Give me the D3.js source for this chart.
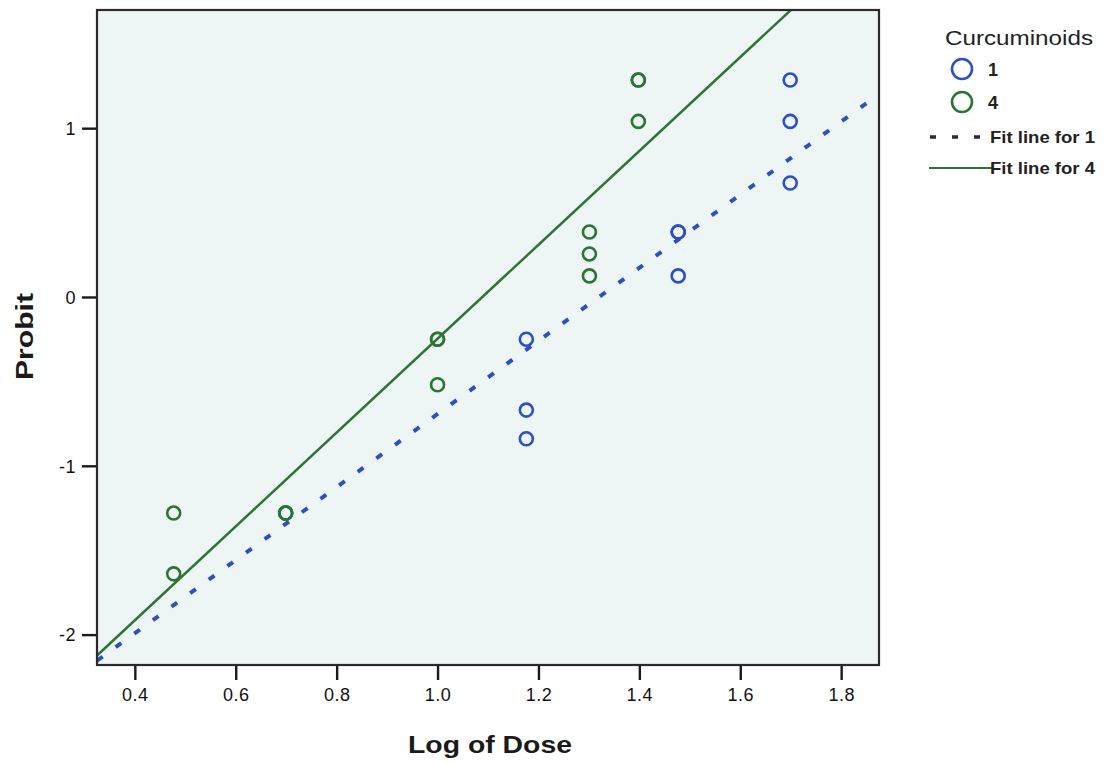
<!DOCTYPE html>
<html>
<head>
<meta charset="utf-8">
<script src="https://cdn.jsdelivr.net/npm/d3@7"></script>
<style>
  html, body { margin: 0; padding: 0; background: #ffffff; }
  svg { display: block; font-family: "Liberation Sans", Arial, sans-serif; }
</style>
</head>
<body>
<svg id="chart" width="1108" height="764"></svg>
<script>
// ---- data ----
const xTicks = [0.4, 0.6, 0.8, 1.0, 1.2, 1.4, 1.6, 1.8];
const yTicks = [-2, -1, 0, 1];
const xDomain = [0.325, 1.875];
const yDomain = [-2.18, 1.70];

// Curcuminoids = 1 (blue)
const group1X = [0.699, 1.176, 1.176, 1.176, 1.477, 1.477, 1.477, 1.699, 1.699, 1.699];
const group1Y = [-1.28, -0.25, -0.67, -0.84, 0.385, 0.385, 0.125, 1.285, 1.04, 0.675];
// Curcuminoids = 4 (green)
const group4X = [0.477, 0.477, 0.699, 0.699, 1.0, 1.0, 1.0, 1.301, 1.301, 1.301, 1.398, 1.398, 1.398];
const group4Y = [-1.28, -1.64, -1.28, -1.28, -0.25, -0.25, -0.52, 0.385, 0.255, 0.125, 1.285, 1.285, 1.04];

// fit lines (intercept, slope)
const fit1 = { intercept: -2.858, slope: 2.165 };
const fit4 = { intercept: -3.027, slope: 2.78 };

const legendTitle = "Curcuminoids";
const legendLabels = ["1", "4", "Fit line for 1", "Fit line for 4"];

// ---- styles ----
const blue = "#2d50c0";
const green = "#2b7434";
const plotBg = "#eef5f5";

const svg = d3.select("#chart");
const L = 97, R = 879, T = 10, B = 665;

const x = d3.scaleLinear().domain(xDomain).range([L, R]);
const y = d3.scaleLinear().domain(yDomain).range([B, T]);

svg.append("defs").append("clipPath").attr("id", "plotclip")
  .append("rect").attr("x", L).attr("y", T).attr("width", R - L).attr("height", B - T);

svg.append("rect").attr("x", L).attr("y", T).attr("width", R - L).attr("height", B - T)
  .attr("fill", plotBg);

// axes
const xAxis = svg.append("g").attr("transform", `translate(0,${B})`)
  .call(d3.axisBottom(x).tickValues(xTicks).tickFormat(d3.format(".1f")).tickSize(15).tickPadding(8));
const yAxis = svg.append("g").attr("transform", `translate(${L},0)`)
  .call(d3.axisLeft(y).tickValues(yTicks).tickFormat(d => (d < 0 ? "-" : "") + Math.abs(d)).tickSize(15).tickPadding(6));
[xAxis, yAxis].forEach(g => {
  g.select(".domain").remove();
  g.selectAll(".tick line").attr("stroke", "#1a1a1a").attr("stroke-width", 2.4);
  g.selectAll(".tick text").attr("fill", "#111").style("font-size", "18px")
    .style("letter-spacing", "0.5px").style("font-family", "'Liberation Sans', Arial, sans-serif");
});
yAxis.selectAll(".tick text").attr("dy", "0.35em");

// fit lines
const plotG = svg.append("g").attr("clip-path", "url(#plotclip)");
const lineGen = d3.line().x(d => x(d[0])).y(d => y(d[1]));
const fitPts = f => xDomain.map(v => [v, f.intercept + f.slope * v]);

plotG.append("path").datum(fitPts(fit4)).attr("d", lineGen)
  .attr("fill", "none").attr("stroke", green).attr("stroke-width", 2.5);
plotG.append("path").datum(fitPts(fit1)).attr("d", lineGen)
  .attr("fill", "none").attr("stroke", blue).attr("stroke-width", 4)
  .attr("stroke-dasharray", "7,16");

// points
const pts1 = group1X.map((v, i) => [v, group1Y[i]]);
const pts4 = group4X.map((v, i) => [v, group4Y[i]]);
plotG.selectAll("circle.g1").data(pts1).join("circle").attr("class", "g1")
  .attr("cx", d => x(d[0])).attr("cy", d => y(d[1])).attr("r", 6.5)
  .attr("fill", "none").attr("stroke", blue).attr("stroke-width", 2.6);
plotG.selectAll("circle.g4").data(pts4).join("circle").attr("class", "g4")
  .attr("cx", d => x(d[0])).attr("cy", d => y(d[1])).attr("r", 6.5)
  .attr("fill", "none").attr("stroke", green).attr("stroke-width", 2.6);

// frame
svg.append("rect").attr("x", L).attr("y", T).attr("width", R - L).attr("height", B - T)
  .attr("fill", "none").attr("stroke", "#2a2a2a").attr("stroke-width", 2.2);

// axis titles
svg.append("text").attr("x", (408 + 572) / 2).attr("y", 753).attr("text-anchor", "middle")
  .attr("font-weight", "bold").attr("font-size", 24).attr("fill", "#1a1a1a")
  .attr("textLength", 164).attr("lengthAdjust", "spacingAndGlyphs")
  .text("Log of Dose");
svg.append("text").attr("transform", `translate(33,${(293 + 380) / 2}) rotate(-90)`)
  .attr("text-anchor", "middle")
  .attr("font-weight", "bold").attr("font-size", 24).attr("fill", "#1a1a1a")
  .attr("textLength", 87).attr("lengthAdjust", "spacingAndGlyphs")
  .text("Probit");

// legend
const lg = svg.append("g");
lg.append("text").attr("x", 945).attr("y", 45).attr("font-size", 20).attr("fill", "#222")
  .attr("textLength", 148).attr("lengthAdjust", "spacingAndGlyphs").text(legendTitle);
lg.append("circle").attr("cx", 962).attr("cy", 69).attr("r", 10)
  .attr("fill", "none").attr("stroke", blue).attr("stroke-width", 2.6);
lg.append("circle").attr("cx", 962).attr("cy", 102).attr("r", 10)
  .attr("fill", "none").attr("stroke", green).attr("stroke-width", 2.6);
lg.append("text").attr("x", 988).attr("y", 76).attr("font-size", 18).attr("font-weight", "bold")
  .attr("fill", "#222").text(legendLabels[0]);
lg.append("text").attr("x", 988).attr("y", 109).attr("font-size", 18).attr("font-weight", "bold")
  .attr("fill", "#222").text(legendLabels[1]);
lg.append("line").attr("x1", 930).attr("x2", 995).attr("y1", 137).attr("y2", 137)
  .attr("stroke", "#262a40").attr("stroke-width", 3.5).attr("stroke-dasharray", "6,16");
lg.append("text").attr("x", 990).attr("y", 143).attr("font-size", 17).attr("font-weight", "bold")
  .attr("fill", "#222").attr("textLength", 105).attr("lengthAdjust", "spacingAndGlyphs")
  .text(legendLabels[2]);
lg.append("line").attr("x1", 929).attr("x2", 992).attr("y1", 168).attr("y2", 168)
  .attr("stroke", green).attr("stroke-width", 2.2);
lg.append("text").attr("x", 990).attr("y", 174).attr("font-size", 17).attr("font-weight", "bold")
  .attr("fill", "#222").attr("textLength", 105).attr("lengthAdjust", "spacingAndGlyphs")
  .text(legendLabels[3]);
</script>
</body>
</html>
